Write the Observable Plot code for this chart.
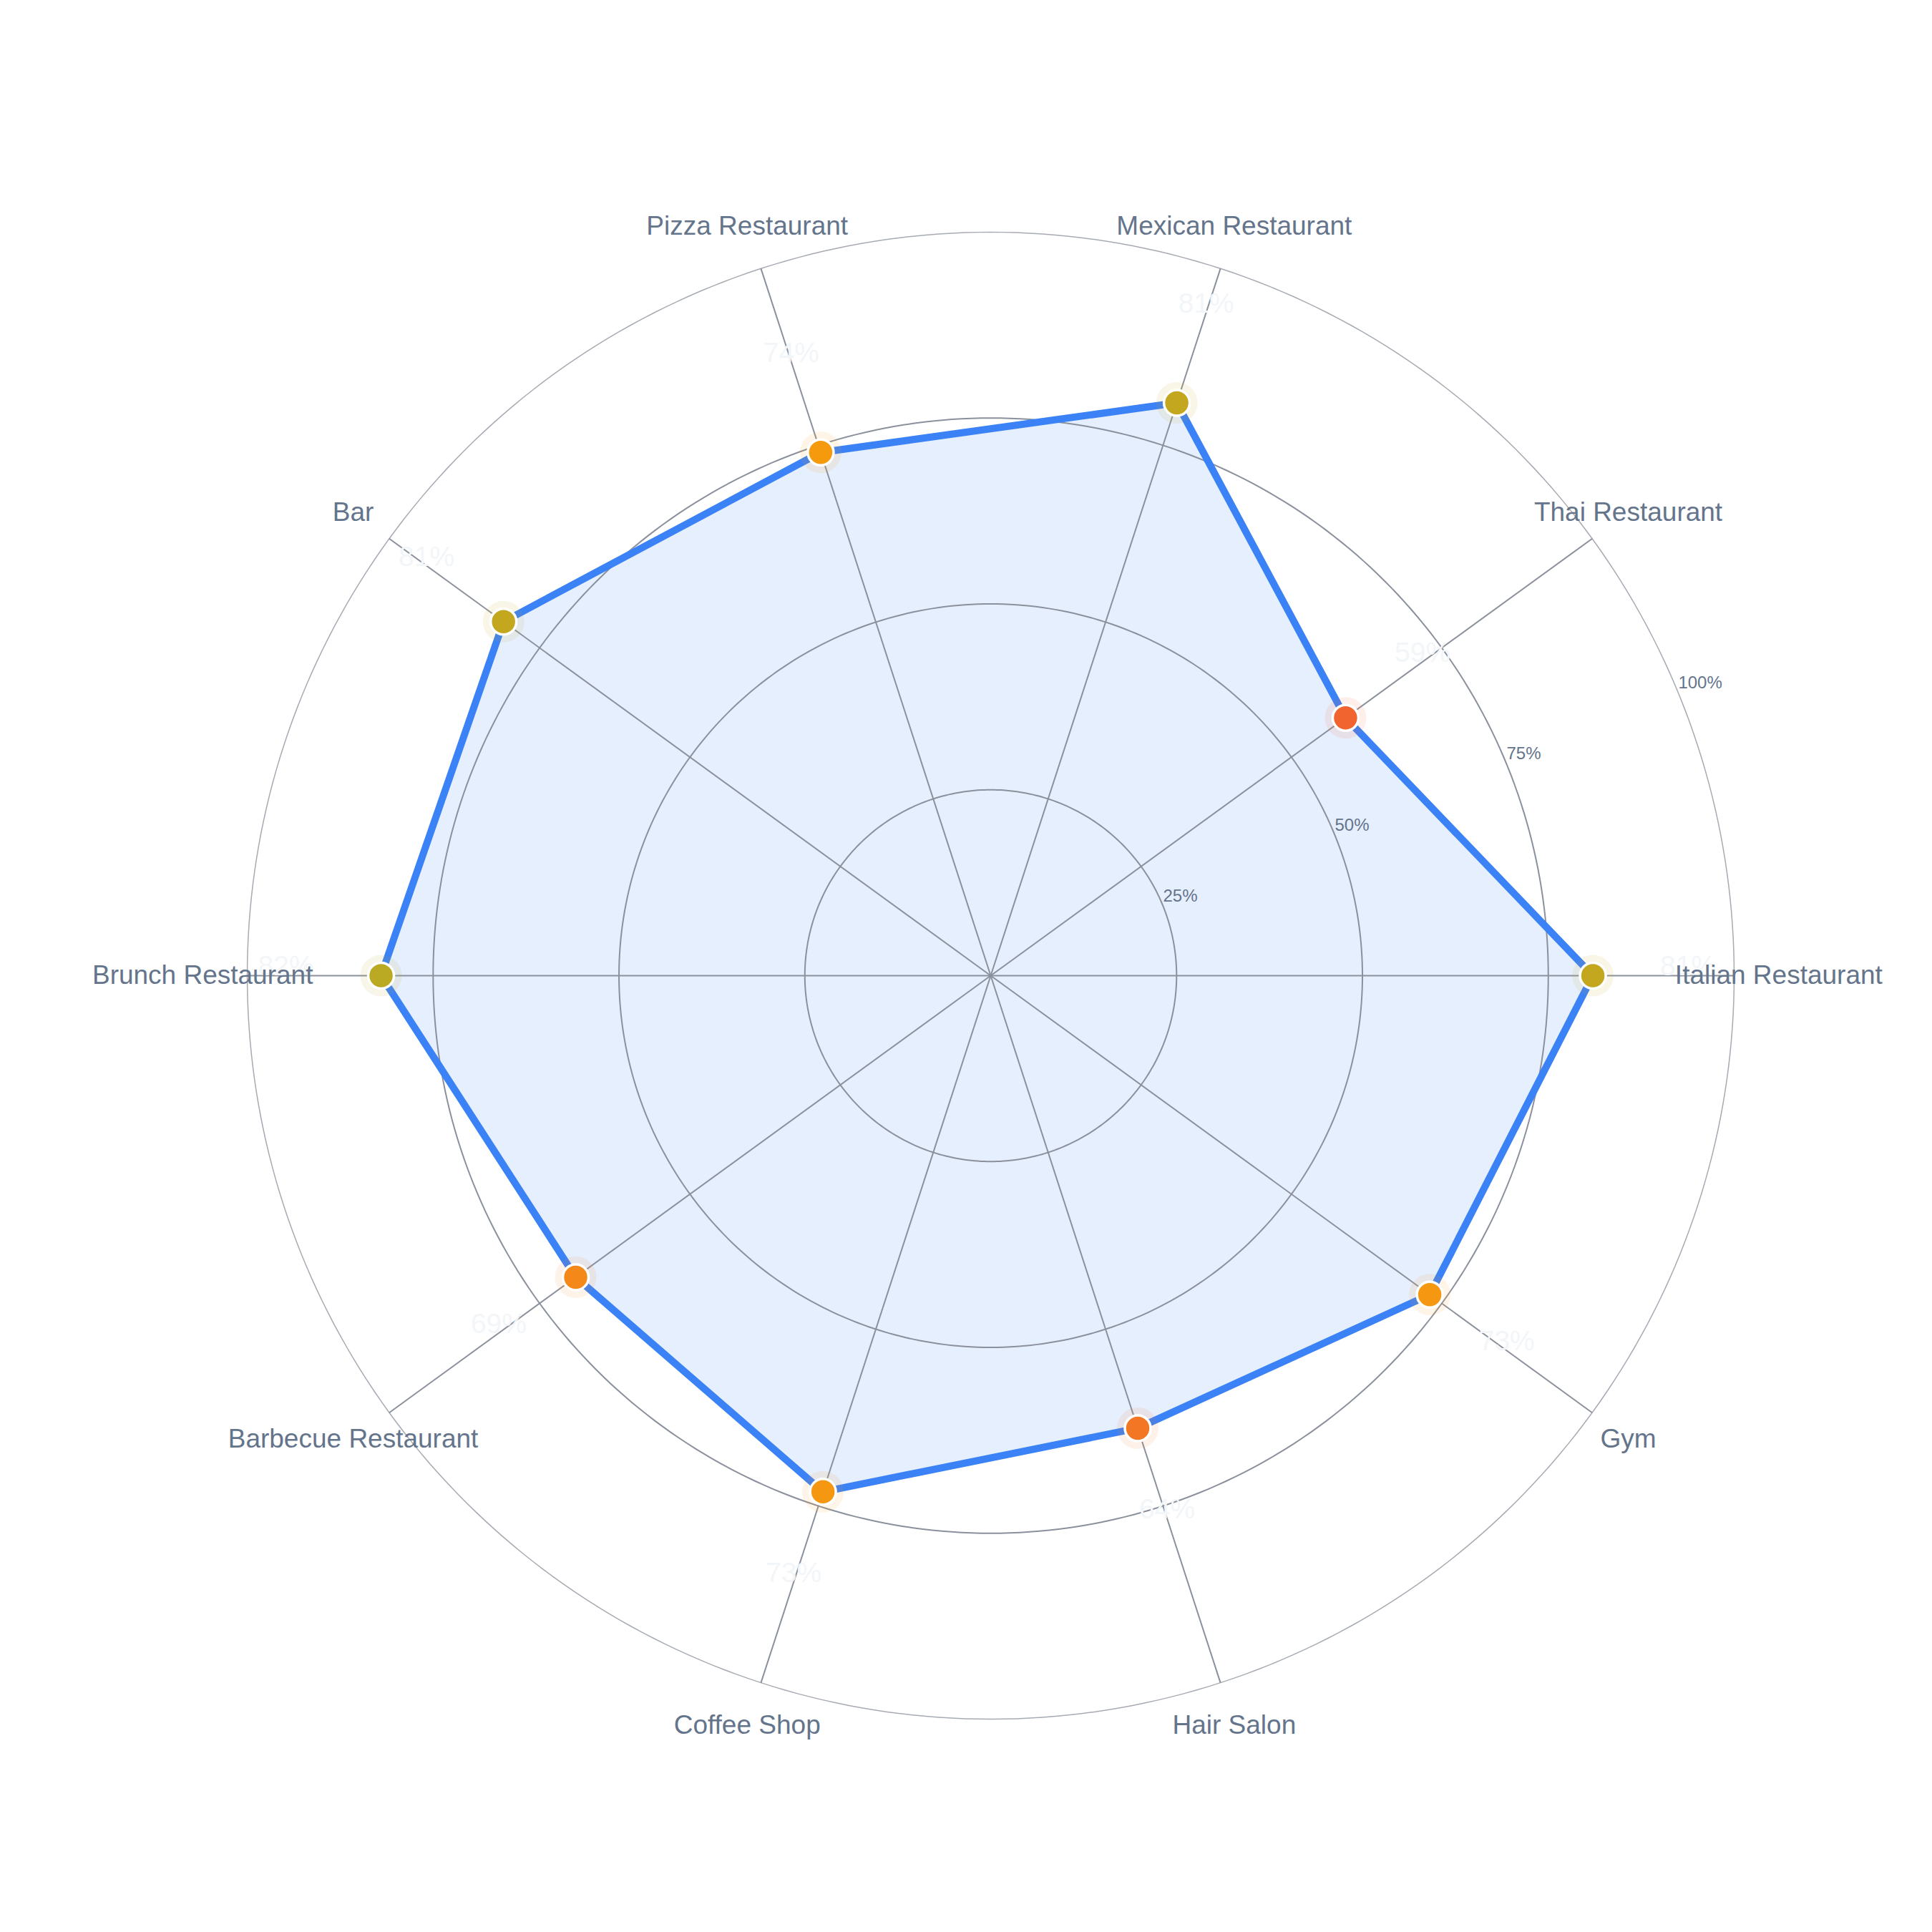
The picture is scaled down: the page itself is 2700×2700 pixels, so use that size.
<!DOCTYPE html>
<html>
<head>
<meta charset="utf-8">
<script src="https://cdn.jsdelivr.net/npm/d3@7"></script>
<script src="https://cdn.jsdelivr.net/npm/@observablehq/plot@0.6"></script>
<style>
  html, body { margin: 0; padding: 0; background: #ffffff; }
  #chart svg { display: block; }
</style>
</head>
<body>
<div id="chart"></div>
<script>
// ---- Data ----
const categories = [
  "Italian Restaurant", "Thai Restaurant", "Mexican Restaurant", "Pizza Restaurant", "Bar",
  "Brunch Restaurant", "Barbecue Restaurant", "Coffee Shop", "Hair Salon", "Gym"
];
const values = [81, 59, 81, 74, 81, 82, 69, 73, 64, 73];
const radialTicks = [25, 50, 75, 100];
const tickLabels = ["25%", "50%", "75%", "100%"];

// ---- Derived polar geometry (angles counter-clockwise from the right) ----
const n = categories.length;
const rad = (deg) => deg * Math.PI / 180;
const rows = categories.map((c, i) => {
  const a = rad(i * 360 / n);
  return { category: c, value: values[i], a };
});
const polar = (r, a) => ({ x: r * Math.cos(a), y: r * Math.sin(a) });

const pts = rows.map(d => ({ ...d, ...polar(d.value, d.a) }));
const valueLabelPts = rows.map(d => ({ ...d, ...polar(d.value + 12.8, d.a), label: d.value + "%" }));
const catLabelPts = rows.map(d => ({ ...d, ...polar(106, d.a) }));
const spokes = rows.map(d => ({ x1: 0, y1: 0, x2: 100 * Math.cos(d.a), y2: 100 * Math.sin(d.a) }));
const ringPts = radialTicks.flatMap(t => d3.range(0, 361, 1).map(deg => ({ tick: t, ...polar(t, rad(deg)) })));
const tickLabelPts = radialTicks.map((t, i) => ({ label: tickLabels[i], ...polar(t, rad(22.5)) }));

const font = "'Liberation Sans', Helvetica, Arial, sans-serif";

const chart = Plot.plot({
  width: 2700,
  height: 2700,
  margin: 0,
  style: { fontFamily: font, background: "#ffffff", overflow: "visible" },
  x: { domain: [-133.21, 126.66], range: [0, 2700], axis: null },
  y: { domain: [-128.68, 131.18], range: [2700, 0], axis: null },
  color: {
    type: "linear",
    domain: [50, 75, 100],
    range: ["#ef4444", "#f59e0b", "#22c55e"],
    interpolate: "rgb"
  },
  marks: [
    // area fill
    Plot.line(pts, { x: "x", y: "y", curve: "linear-closed", fill: "#3b82f6", fillOpacity: 0.13, stroke: "none" }),
    // rings
    Plot.line(ringPts.filter(d => d.tick < 100), { x: "x", y: "y", z: "tick", stroke: "#8b919c", strokeWidth: 2 }),
    Plot.line(ringPts.filter(d => d.tick === 100), { x: "x", y: "y", z: "tick", stroke: "#a6aab2", strokeWidth: 1.5 }),
    // spokes
    Plot.link(spokes, { x1: "x1", y1: "y1", x2: "x2", y2: "y2", stroke: "#8b919c", strokeWidth: 2 }),
    // radial tick labels
    Plot.text(tickLabelPts, { x: "x", y: "y", text: "label", textAnchor: "start", lineAnchor: "bottom", dx: 1, dy: -4, fontSize: 24, fill: "#64748b" }),
    // faint value labels
    Plot.text(valueLabelPts, { x: "x", y: "y", text: "label", textAnchor: "middle", lineAnchor: "bottom", fontSize: 39, fill: "#f3f6f9" }),
    // polygon outline
    Plot.line(pts, { x: "x", y: "y", curve: "linear-closed", stroke: "#3b82f6", strokeWidth: 10, strokeLinejoin: "round" }),
    // halos
    Plot.dot(pts, { x: "x", y: "y", r: 29, fill: "value", fillOpacity: 0.1, stroke: "none" }),
    // points
    Plot.dot(pts, { x: "x", y: "y", r: 18, fill: "value", stroke: "#ffffff", strokeWidth: 3.5 }),
    // category labels
    Plot.text(catLabelPts, { x: "x", y: "y", text: "category", textAnchor: "middle", lineAnchor: "middle", fontSize: 37, fill: "#64748b" })
  ]
});

document.getElementById("chart").appendChild(chart);
</script>
</body>
</html>
